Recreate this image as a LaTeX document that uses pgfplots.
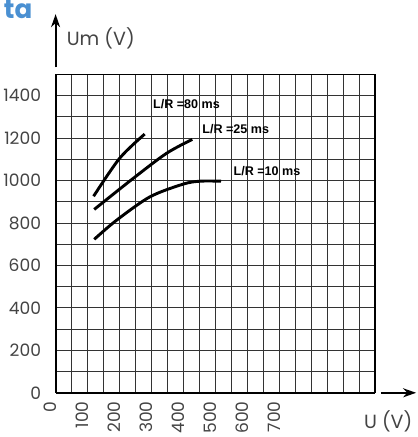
\documentclass[border=0pt]{standalone}
\usepackage{pgfplots}
\pgfplotsset{compat=1.18}
\usepackage{fontspec}
\setmainfont{Poppins}
\newfontfamily\lab{Liberation Sans}
\usetikzlibrary{arrows.meta}
\definecolor{txt}{HTML}{444444}
\definecolor{hblue}{HTML}{4A90D2}
\begin{document}
\begin{tikzpicture}
\begin{axis}[
  at={(0pt,0pt)}, anchor=south west,
  scale only axis, width=318pt, height=317pt,
  xmin=0, xmax=1000, ymin=0, ymax=1500,
  xtick={0,50,...,1000},
  xticklabels={0,,100,,200,,300,,400,,500,,600,,700,,,,,,},
  ytick={0,100,...,1500},
  yticklabels={0,,200,,400,,600,,800,,1000,,1200,,1400,},
  major tick length=0pt,
  xmajorgrids, ymajorgrids,
  major grid style={black!80, line width=0.9pt},
  axis line style={black, line width=1.2pt},
  tick label style={font=\fontsize{17}{17}\selectfont, text=txt},
  xticklabel style={xshift=-5pt, yshift=-5pt, rotate=90, anchor=east},
  yticklabel style={xshift=-11pt},
  clip=false,
]
\addplot[black, line width=2.9pt, smooth] coordinates {(119,926) (200,1104) (279,1219)};
\addplot[black, line width=2.9pt, smooth] coordinates {(121,864) (242,1009) (347,1128) (428,1194)};
\addplot[black, line width=2.9pt, smooth] coordinates {(121,723) (190,812) (295,923) (399,983) (452,997) (518,997)};
\node[anchor=west, inner sep=0pt, font=\lab\bfseries\fontsize{12.5}{12.5}\selectfont] at (axis cs:305,1358) {L/R =80 ms};
\node[anchor=west, inner sep=0pt, font=\lab\bfseries\fontsize{12.5}{12.5}\selectfont] at (axis cs:459,1241) {L/R =25 ms};
\node[anchor=west, inner sep=0pt, font=\lab\bfseries\fontsize{12.5}{12.5}\selectfont] at (axis cs:557,1046) {L/R =10 ms};
\end{axis}
\draw[line width=2pt] (0pt,0pt) -- (0pt,317pt);
\draw[line width=2pt] (0pt,0pt) -- (318pt,0pt);
\draw[line width=2pt, -{Stealth[length=13pt,width=9pt]}] (0pt,324pt) -- (0pt,377pt);
\draw[line width=2pt, -{Stealth[length=13pt,width=9pt]}] (324pt,0pt) -- (359pt,0pt);
\node[anchor=west, inner sep=0pt, text=txt, font=\fontsize{19}{19}\selectfont] at (11pt,353pt) {Um (V)};
\node[anchor=west, inner sep=0pt, text=txt, font=\fontsize{19}{19}\selectfont] at (307pt,-28pt) {U (V)};
\node[anchor=east, inner sep=0pt, text=hblue, font=\bfseries\fontsize{26}{26}\selectfont] at (-23pt,382pt) {ta};
\end{tikzpicture}
\end{document}
